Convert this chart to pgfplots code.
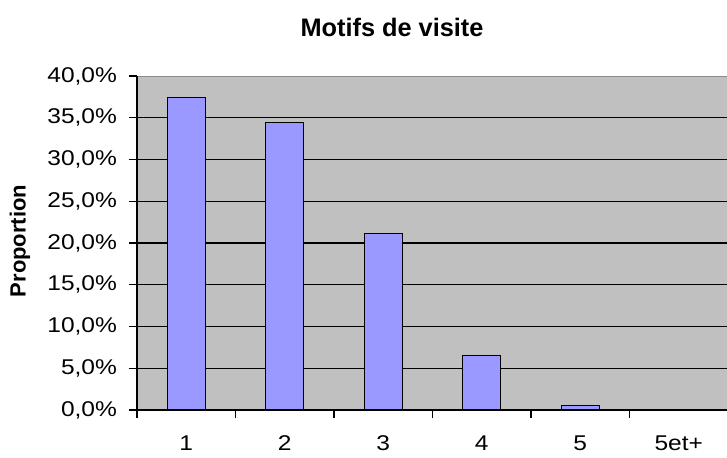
\documentclass[border=0pt]{standalone}
\usepackage{pgfplots}
\pgfplotsset{compat=1.18}
\usepackage{fontspec}
\setmainfont{Liberation Sans}
\newfontfamily\tickfont{Liberation Sans}[FakeStretch=1.15]
\definecolor{bgc}{HTML}{C0C0C0}
\definecolor{barc}{HTML}{9999FF}
\definecolor{topc}{HTML}{8C8C8C}
\begin{document}
\begin{tikzpicture}[x=0.75pt,y=0.75pt]
\useasboundingbox (-137,-47) rectangle (590,410);
\begin{axis}[
  at={(0,0)}, anchor=south west,
  scale only axis, width=443.25pt, height=250.5pt,
  xmin=0.5, xmax=6.5, ymin=0, ymax=40,
  axis background/.style={fill=bgc, draw=topc, line width=0.75pt},
  axis x line*=bottom, axis y line*=left,
  axis line style={black, line width=1pt, -},
  xtick={1,2,3,4,5,6},
  xticklabels={1,2,3,4,5,5et+},
  major x tick style={draw=none},
  minor xtick={0.5,1.5,2.5,3.5,4.5,5.5,6.5},
  minor x tick style={black, line width=1pt},
  minor tick length=6pt,
  ytick={0,5,10,15,20,25,30,35},
  /pgf/number format/assume math mode=true,
  yticklabel={\pgfmathprintnumber[fixed,fixed zerofill,precision=1,use comma,assume math mode=true]{\tick}\%},
  extra y ticks={40},
  extra y tick style={grid=none},
  ymajorgrids,
  grid style={black, line width=1pt},
  major tick length=6pt,
  tick align=outside,
  tick style={black, line width=1pt},
  tick label style={font=\tickfont\fontsize{16}{19}\selectfont},
  yticklabel style={xshift=-5.5pt},
  xticklabel style={yshift=-10pt},
  ybar, bar width=28.5pt,
]
\addplot[fill=barc, draw=black, line width=1pt] coordinates {(1,37.4) (2,34.4) (3,21.1) (4,6.5) (5,0.5) (6,0)};
\end{axis}
\node[font=\fontsize{19}{22}\selectfont\bfseries] at (255,383) {Motifs de visite};
\node[font=\fontsize{16.5}{19}\selectfont\bfseries, rotate=90] at (-117,169) {Proportion};
\end{tikzpicture}
\end{document}
